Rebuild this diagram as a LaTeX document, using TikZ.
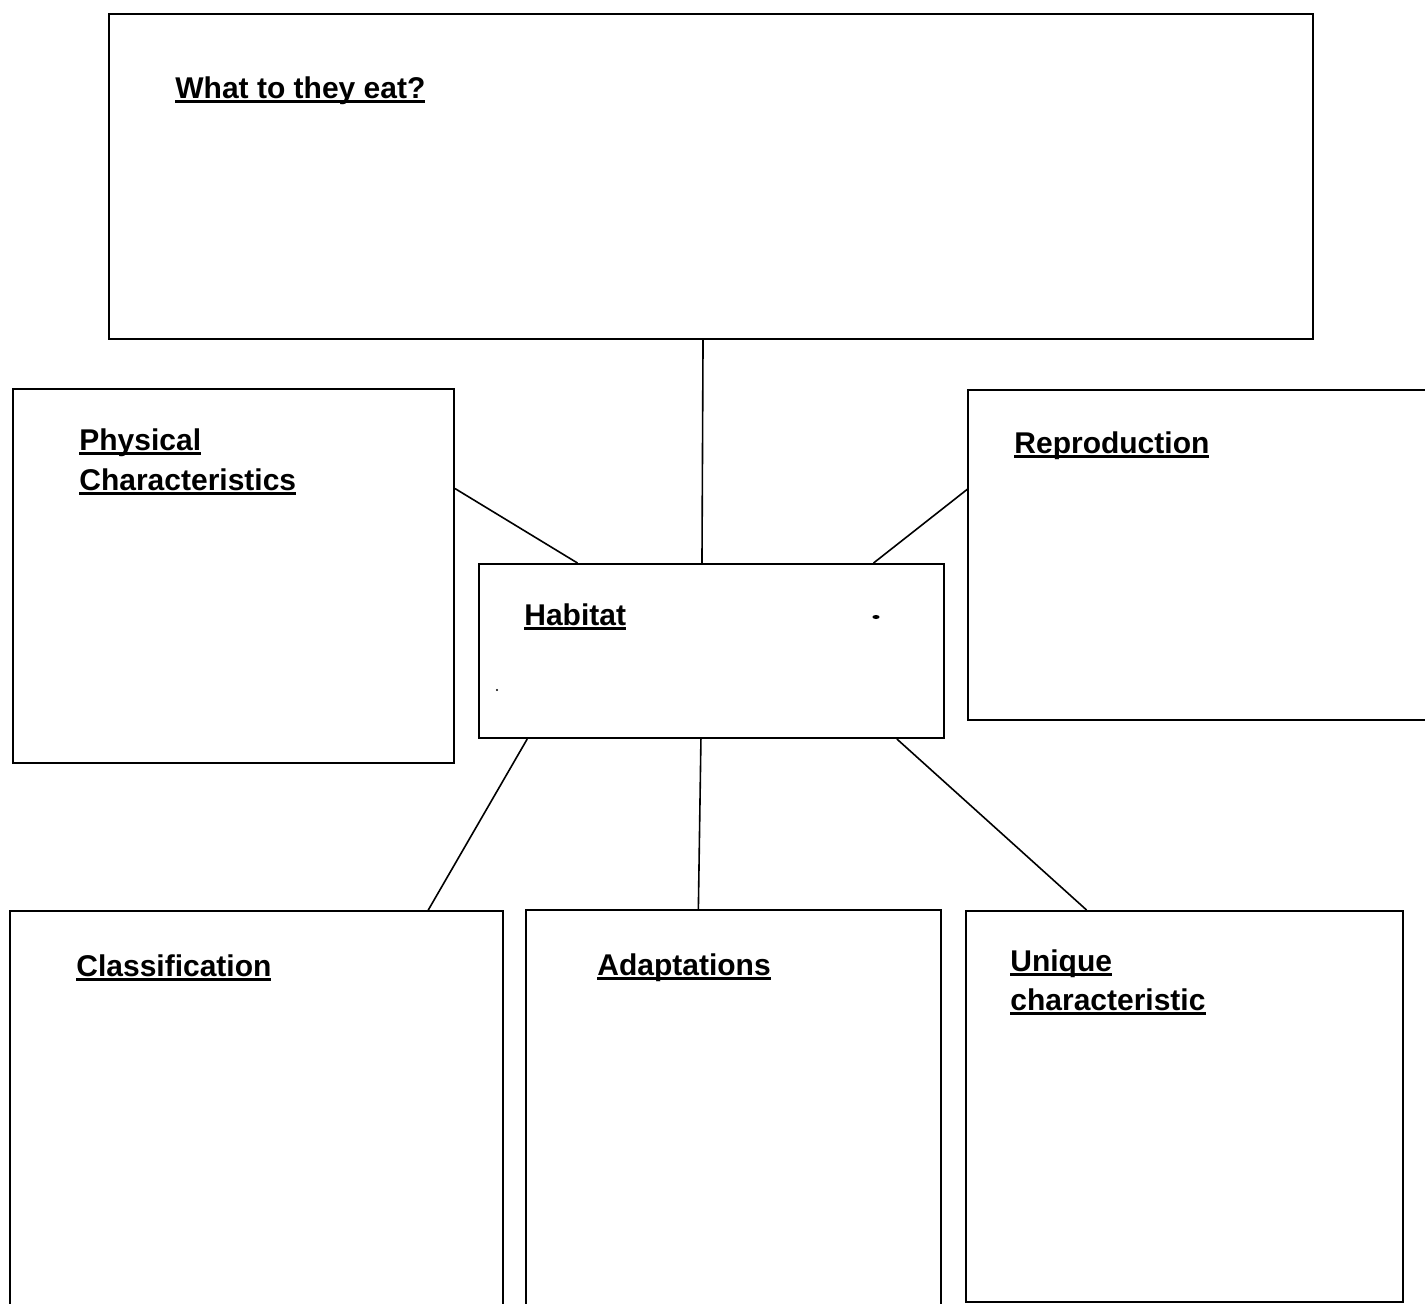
\documentclass[tikz,border=0pt]{standalone}
\usepackage{fontspec}
\setmainfont{Liberation Sans}
\usetikzlibrary{calc}
\tikzset{
  box/.style={draw=black, line width=1pt, inner sep=0pt, anchor=north west},
  openbox/.style={draw=none, inner sep=0pt, anchor=north west},
  side/.style={draw=black, line width=1pt},
  link/.style={draw=black, line width=0.8pt},
  label/.style={anchor=base west, inner sep=0pt, font=\fontsize{15}{20}\selectfont\bfseries, align=left}
}
\newcommand{\ul}[1]{\setbox0\hbox{#1}\rlap{\rule[-2.3pt]{\wd0}{1.2pt}}\box0}
\begin{document}
\begin{tikzpicture}[x=0.5pt,y=-0.5pt]
\useasboundingbox (0,0) rectangle (1425,1303);
% boxes
\node[box, minimum width=602pt, minimum height=162.5pt] (eat) at (108,13) {};
\node[box, minimum width=220.5pt, minimum height=187pt] (phys) at (12,388) {};
\node[openbox, minimum width=229pt, minimum height=164.5pt] (repr) at (968,390) {};
\node[box, minimum width=232.5pt, minimum height=87pt] (hab) at (478,563) {};
\node[openbox, minimum width=246pt, minimum height=200pt] (clas) at (10,911) {};
\node[openbox, minimum width=207pt, minimum height=200pt] (adap) at (526,910) {};
\node[box, minimum width=218.5pt, minimum height=195.5pt] (uniq) at (965,910) {};
% open boxes
\draw[side] (repr.north east) -- (repr.north west) -- (repr.south west) -- (repr.south east);
\draw[side] (clas.south west) -- (clas.north west) -- (clas.north east) -- (clas.south east);
\draw[side] (adap.south west) -- (adap.north west) -- (adap.north east) -- (adap.south east);
% connectors
\draw[link] ($(eat.south west)!0.4934!(eat.south east)$) -- ($(hab.north west)!0.4796!(hab.north east)$);
\draw[link] ($(phys.north east)!0.2674!(phys.south east)$) -- ($(hab.north west)!0.213!(hab.north east)$);
\draw[link] ($(repr.north west)!0.2994!(repr.south west)$) -- ($(hab.north west)!0.847!(hab.north east)$);
\draw[link] ($(hab.south west)!0.1054!(hab.south east)$) -- ($(clas.north west)!0.8476!(clas.north east)$);
\draw[link] ($(hab.south west)!0.4774!(hab.south east)$) -- ($(adap.north west)!0.4155!(adap.north east)$);
\draw[link] ($(hab.south west)!0.897!(hab.south east)$) -- ($(uniq.north west)!0.2769!(uniq.north east)$);
% labels
\node[label] (teat) at (175,98) {\ul{What to they eat?}};
\node[label] (tphys1) at (79,450) {\ul{Physical}};
\node[label] (tphys2) at (79,490) {\ul{Characteristics}};
\node[label] (trepr) at (1014,453) {\ul{Reproduction}};
\node[label] (thab) at (524,625) {\ul{Habitat}};
\node[label] (tclas) at (76,976) {\ul{Classification}};
\node[label] (tadap) at (597,975) {\ul{Adaptations}};
\node[label] (tuniq1) at (1010,971) {\ul{Unique}};
\node[label] (tuniq2) at (1010,1010) {\ul{characteristic}};
% specks
\fill (876,617) ellipse (1.8pt and 1pt);
\fill (497,690) circle (0.6pt);
\end{tikzpicture}
\end{document}
